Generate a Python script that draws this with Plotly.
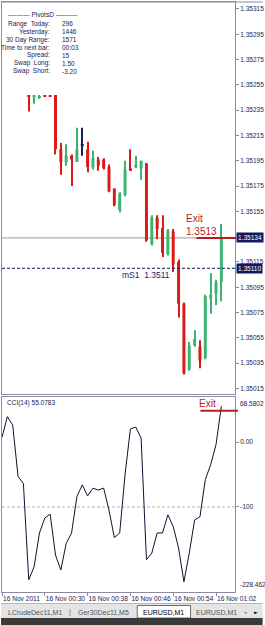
import plotly.graph_objects as go

# ---------------- data (EURUSD M1, 16 Nov 2011, bars 00:27 ... 01:03) ----------------
bar_index = list(range(37))
opens = [1.35247, 1.35245, 1.35245, 1.35247, 1.35247, 1.35247, 1.35204, 1.35194, 1.35199, 1.35194,
         1.35207, 1.35204, 1.35190, 1.35196, 1.35196, 1.35190, 1.35173, 1.35156, 1.35168, 1.35189,
         1.35190, 1.35189, 1.35193, 1.35129, 1.35150, 1.35142, 1.35121, 1.35139, 1.35115, 1.35082,
         1.35030, 1.35049, 1.35048, 1.35039, 1.35086, 1.35090, 1.35099]
highs = [1.35247, 1.35247, 1.35247, 1.35247, 1.35247, 1.35247, 1.35209, 1.35208, 1.35200, 1.35221,
         1.35221, 1.35210, 1.35203, 1.35198, 1.35197, 1.35192, 1.35173, 1.35170, 1.35195, 1.35204,
         1.35199, 1.35195, 1.35193, 1.35152, 1.35152, 1.35152, 1.35141, 1.35141, 1.35117, 1.35083,
         1.35052, 1.35061, 1.35053, 1.35089, 1.35106, 1.35101, 1.35145]
lows = [1.35234, 1.35240, 1.35244, 1.35246, 1.35246, 1.35200, 1.35184, 1.35191, 1.35175, 1.35194,
        1.35199, 1.35186, 1.35188, 1.35187, 1.35188, 1.35170, 1.35159, 1.35154, 1.35167, 1.35187,
        1.35189, 1.35180, 1.35131, 1.35128, 1.35133, 1.35119, 1.35120, 1.35107, 1.35071, 1.35026,
        1.35029, 1.35048, 1.35031, 1.35038, 1.35074, 1.35081, 1.35084]
closes = [1.35246, 1.35247, 1.35246, 1.35246, 1.35246, 1.35204, 1.35194, 1.35199, 1.35196, 1.35204,
          1.35207, 1.35190, 1.35197, 1.35191, 1.35189, 1.35171, 1.35160, 1.35169, 1.35188, 1.35187,
          1.35192, 1.35195, 1.35132, 1.35150, 1.35141, 1.35122, 1.35140, 1.35113, 1.35082, 1.35027,
          1.35049, 1.35054, 1.35037, 1.35088, 1.35089, 1.35099, 1.35134]

cci_index = list(range(-5, 37))
cci_values = [7, 39, 26, -53, -64, -212, -192, -140, -117, -111, -174, -197, -156, -140, -84, -66,
              -83, -71, -74, -71, -105, -147, -140, -50, 20, 23, 6, -181, -171, -140, -140, -112,
              -130, -163, -215, -171, -120, -115, -58, -35, -4, 55.0783]
cci_title = "CCI(14) 55.0783"
cci_max, cci_min = 68.5802, -228.462
cci_tick_vals = [0, -100]
cci_tick_text = ["0.00", "-100"]
cci_level = -100
cci_exit_level = 48

# price scale labels (1.35135 is hidden behind the bid-price box in the reference)
price_tick_labels = ["1.35015", "1.35035", "1.35055", "1.35075", "1.35095", "1.35115",
                     "1.35155", "1.35175", "1.35195", "1.35215", "1.35235", "1.35255", "1.35275",
                     "1.35295", "1.35315"]
price_ticks = [float(s) for s in price_tick_labels]

time_tick_pos = [-5, 3, 11, 19, 27, 35]
time_tick_labels = ["16 Nov 2011", "16 Nov 00:30", "16 Nov 00:38", "16 Nov 00:46",
                    "16 Nov 00:54", "16 Nov 01:02"]

bid_price = 1.35134
ms1_price = 1.35110
exit_text = "Exit<br>1.3513"
ms1_text = "mS1\u00a0\u00a01.3511"

pivot_header = "---------- PivotsD ----------"
pivot_labels = ["Range\u00a0 Today:", "Yesterday:", "30 Day Range:", "Time to next bar:",
                "Spread:", "Swap\u00a0 Long:", "Swap\u00a0 Short:"]
pivot_values = ["296", "1446", "1571", "00:03", "15", "1.50", "-3.20"]

tab_names = ["LCrudeDec11,M1", "Ger30Dec11,M5", "EURUSD,M1", "EURUSD,M1"]

# ---------------- styles ----------------
W, H = 265, 625
ML, MR, MT, MB = 1, 28, 2, 33
PW, PH = W - ML - MR, H - MT - MB
def px(x): return (x - ML) / PW
def py(y): return (H - MB - y) / PH

FONT = "Liberation Sans"
RED = "#dc1a1a"
GREEN = "#3cb371"
DOJI = "#1c1c5c"
TXT = "#1a1a4e"
FRAME = "#8a8aa2"
NAVY = "#15185e"
EXIT_RED = "#b81c22"

XR = [-5.0, 38.55]
YR = [1.350106, 1.353205]
Y2R = [-230.8, 70.0]

colors = [GREEN if c > o else (RED if c < o else DOJI) for o, c in zip(opens, closes)]
body_base = [min(o, c) for o, c in zip(opens, closes)]
body_h = [max(abs(c - o), 0.000008) for o, c in zip(opens, closes)]
wick_h = [h - l for h, l in zip(highs, lows)]

fig = go.Figure()
fig.add_trace(go.Bar(x=bar_index, base=lows, y=wick_h, width=0.19,
                     marker=dict(color=colors, line=dict(width=0)),
                     xaxis="x", yaxis="y", hoverinfo="skip"))
fig.add_trace(go.Bar(x=bar_index, base=body_base, y=body_h, width=0.56,
                     marker=dict(color=colors, line=dict(width=0)),
                     xaxis="x", yaxis="y", hoverinfo="skip"))
fig.add_trace(go.Scatter(x=cci_index, y=cci_values, mode="lines",
                         line=dict(color="#111133", width=1),
                         xaxis="x2", yaxis="y2", hoverinfo="skip"))

shapes = []
shapes.append(dict(type="line", xref="x domain", yref="y", x0=0, x1=1, y0=bid_price, y1=bid_price,
                   line=dict(color="#9a9a9a", width=1), layer="below"))
shapes.append(dict(type="line", xref="x domain", yref="y", x0=0, x1=1, y0=ms1_price, y1=ms1_price,
                   line=dict(color="#10104a", width=1, dash="3px,2px")))
shapes.append(dict(type="line", xref="paper", yref="y", x0=px(198), x1=px(238),
                   y0=bid_price, y1=bid_price, line=dict(color=EXIT_RED, width=2)))
shapes.append(dict(type="line", xref="x2 domain", yref="y2", x0=0, x1=1, y0=cci_level, y1=cci_level,
                   line=dict(color="#b4b4b4", width=1, dash="3px,2px"), layer="below"))
shapes.append(dict(type="line", xref="paper", yref="y2", x0=px(202), x1=px(240),
                   y0=cci_exit_level, y1=cci_exit_level, line=dict(color=EXIT_RED, width=2)))
shapes.append(dict(type="line", xref="paper", yref="paper", x0=px(0), x1=px(265), y0=py(2), y1=py(2),
                   line=dict(color=FRAME, width=1)))
shapes.append(dict(type="rect", xref="paper", yref="paper", x0=px(0), x1=px(265), y0=py(618), y1=py(603),
                   fillcolor="#e4e4e4", line=dict(width=0)))
shapes.append(dict(type="line", xref="paper", yref="paper", x0=px(0), x1=px(265), y0=py(603.5), y1=py(603.5),
                   line=dict(color="#b8b8b8", width=1)))
shapes.append(dict(type="rect", xref="paper", yref="paper", x0=px(138), x1=px(192), y0=py(618), y1=py(605.5),
                   fillcolor="#ffffff", line=dict(color="#6a6a6a", width=1)))
shapes.append(dict(type="rect", xref="paper", yref="paper", x0=px(0), x1=px(265), y0=py(626), y1=py(618),
                   fillcolor="#3a3a3a", line=dict(width=0)))

ann = []
small = dict(family=FONT, size=6.5, color=TXT)
ann.append(dict(xref="paper", yref="paper", x=px(5), y=py(15), text=pivot_header, showarrow=False,
                xanchor="left", yanchor="middle", font=small))
for k, (lab, val) in enumerate(zip(pivot_labels, pivot_values)):
    yy = py(23.5 + 8 * k)
    ann.append(dict(xref="paper", yref="paper", x=px(52), y=yy, text=lab, showarrow=False,
                    xanchor="right", yanchor="middle", font=small))
    ann.append(dict(xref="paper", yref="paper", x=px(60), y=yy, text=val, showarrow=False,
                    xanchor="left", yanchor="middle", font=small))

ann.append(dict(xref="x", yref="y", x=29.0, y=bid_price, text=exit_text, showarrow=False,
                xanchor="left", yanchor="bottom", align="left", yshift=-1,
                font=dict(family=FONT, size=10, color=EXIT_RED)))
ann.append(dict(xref="x", yref="y", x=26.8, y=ms1_price, text=ms1_text, showarrow=False,
                xanchor="right", yanchor="top", yshift=0,
                font=dict(family=FONT, size=8.5, color="#1c1c6c")))
for val, lab in [(bid_price, "1.35134"), (ms1_price, "1.35110")]:
    ann.append(dict(xref="paper", yref="y", x=px(238), y=val, text=lab, showarrow=False,
                    xanchor="left", yanchor="middle", bgcolor=NAVY, borderpad=1,
                    font=dict(family=FONT, size=6.5, color="#ffffff")))

ann.append(dict(xref="paper", yref="paper", x=px(4), y=py(403), text=cci_title, showarrow=False,
                xanchor="left", yanchor="middle", font=small))
ann.append(dict(xref="paper", yref="y2", x=px(199), y=cci_exit_level, text="Exit", showarrow=False,
                xanchor="left", yanchor="bottom", yshift=0,
                font=dict(family=FONT, size=10, color=EXIT_RED)))
ann.append(dict(xref="paper", yref="y2", x=px(240), y=cci_max, text=f"{cci_max:.4f}", showarrow=False,
                xanchor="left", yanchor="top", yshift=-1, font=small))
ann.append(dict(xref="paper", yref="y2", x=px(240), y=cci_min, text=f"{cci_min:.3f}", showarrow=False,
                xanchor="left", yanchor="bottom", font=small))

tab_font = dict(family=FONT, size=7, color="#555555")
for name, cx, col in zip(tab_names, [34.5, 103.5, 165, 218.5], ["#555555", "#555555", "#000000", "#555555"]):
    ann.append(dict(xref="paper", yref="paper", x=px(cx), y=py(612), text=name, showarrow=False,
                    xanchor="center", yanchor="middle", font=dict(family=FONT, size=7, color=col)))
ann.append(dict(xref="paper", yref="paper", x=px(70), y=py(612), text="|", showarrow=False,
                xanchor="center", yanchor="middle", font=tab_font))
ann.append(dict(xref="paper", yref="paper", x=px(247), y=py(612), text="\u25c4", showarrow=False,
                xanchor="center", yanchor="middle", font=dict(family="DejaVu Sans", size=5, color="#9a9a9a")))
ann.append(dict(xref="paper", yref="paper", x=px(258), y=py(612), text="\u25ba", showarrow=False,
                xanchor="center", yanchor="middle", font=dict(family="DejaVu Sans", size=5, color="#000000")))

axis_common = dict(showgrid=False, zeroline=False, showline=True, mirror=True, linecolor=FRAME,
                   linewidth=1, tickcolor=FRAME, tickfont=dict(family=FONT, size=6.5, color=TXT))

fig.update_layout(
    width=W, height=H, margin=dict(l=ML, r=MR, t=MT, b=MB),
    paper_bgcolor="#ffffff", plot_bgcolor="#ffffff",
    showlegend=False, barmode="overlay", hovermode=False,
    font=dict(family=FONT, size=7, color=TXT),
    xaxis=dict(domain=[0, 1], range=XR, anchor="y", showticklabels=False, ticks="", **axis_common),
    yaxis=dict(domain=[py(394), 1], range=YR, anchor="x", side="right", tickvals=price_ticks,
               ticktext=price_tick_labels, ticks="outside", ticklen=3, **axis_common),
    xaxis2=dict(domain=[0, 1], range=XR, anchor="y2", tickvals=time_tick_pos, ticktext=time_tick_labels,
                ticks="outside", ticklen=3, tickangle=0, ticklabelposition="outside right",
                **{**axis_common, "tickfont": dict(family=FONT, size=6.6, color=TXT)}),
    yaxis2=dict(domain=[0, py(396.5)], range=Y2R, anchor="x2", side="right", tickvals=cci_tick_vals,
                ticktext=cci_tick_text, ticks="outside", ticklen=3, **axis_common),
    shapes=shapes, annotations=ann,
)

fig.write_html("out.html")
